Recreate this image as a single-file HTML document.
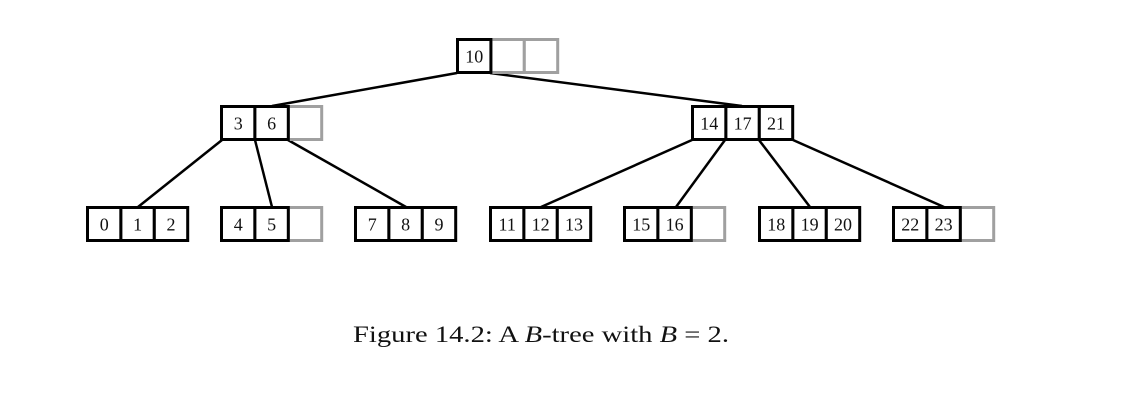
<!DOCTYPE html>
<html><head><meta charset="utf-8"><style>
html,body{margin:0;padding:0;background:#fff;}
svg{display:block;}
text{font-family:"Liberation Serif",serif;}
</style></head><body>
<svg width="1123" height="415" viewBox="0 0 1123 415" xmlns="http://www.w3.org/2000/svg">
<g stroke="#000" stroke-width="2.5" fill="none">
<line x1="457" y1="73" x2="272" y2="106"/>
<line x1="490" y1="73" x2="742" y2="106"/>
<line x1="222" y1="140" x2="138" y2="207"/>
<line x1="255" y1="140" x2="272" y2="207"/>
<line x1="288" y1="140" x2="406" y2="207"/>
<line x1="692" y1="140" x2="541" y2="207"/>
<line x1="725" y1="140" x2="676" y2="207"/>
<line x1="759" y1="140" x2="810" y2="207"/>
<line x1="793" y1="140" x2="944" y2="207"/>
</g>
<g fill="#fff" stroke="#a0a0a0" stroke-width="3">
<rect x="490.9" y="39.5" width="33.4" height="33"/>
<rect x="524.3" y="39.5" width="33.4" height="33"/>
<rect x="288.3" y="106.5" width="33.4" height="33"/>
<rect x="288.3" y="207.5" width="33.4" height="33"/>
<rect x="691.3" y="207.5" width="33.4" height="33"/>
<rect x="960.3" y="207.5" width="33.4" height="33"/>
</g>
<g fill="#fff" stroke="#000" stroke-width="3">
<rect x="457.5" y="39.5" width="33.4" height="33"/>
<rect x="221.5" y="106.5" width="33.4" height="33"/>
<rect x="254.9" y="106.5" width="33.4" height="33"/>
<rect x="692.5" y="106.5" width="33.4" height="33"/>
<rect x="725.9" y="106.5" width="33.4" height="33"/>
<rect x="759.3" y="106.5" width="33.4" height="33"/>
<rect x="87.5" y="207.5" width="33.4" height="33"/>
<rect x="120.9" y="207.5" width="33.4" height="33"/>
<rect x="154.3" y="207.5" width="33.4" height="33"/>
<rect x="221.5" y="207.5" width="33.4" height="33"/>
<rect x="254.9" y="207.5" width="33.4" height="33"/>
<rect x="355.5" y="207.5" width="33.4" height="33"/>
<rect x="388.9" y="207.5" width="33.4" height="33"/>
<rect x="422.3" y="207.5" width="33.4" height="33"/>
<rect x="490.5" y="207.5" width="33.4" height="33"/>
<rect x="523.9" y="207.5" width="33.4" height="33"/>
<rect x="557.3" y="207.5" width="33.4" height="33"/>
<rect x="624.5" y="207.5" width="33.4" height="33"/>
<rect x="657.9" y="207.5" width="33.4" height="33"/>
<rect x="759.5" y="207.5" width="33.4" height="33"/>
<rect x="792.9" y="207.5" width="33.4" height="33"/>
<rect x="826.3" y="207.5" width="33.4" height="33"/>
<rect x="893.5" y="207.5" width="33.4" height="33"/>
<rect x="926.9" y="207.5" width="33.4" height="33"/>
</g>
<g font-size="18" text-anchor="middle" fill="#111">
<text x="474.2" y="62.5">10</text>
<text x="238.2" y="129.5">3</text>
<text x="271.6" y="129.5">6</text>
<text x="709.2" y="129.5">14</text>
<text x="742.6" y="129.5">17</text>
<text x="776" y="129.5">21</text>
<text x="104.2" y="230.5">0</text>
<text x="137.6" y="230.5">1</text>
<text x="171" y="230.5">2</text>
<text x="238.2" y="230.5">4</text>
<text x="271.6" y="230.5">5</text>
<text x="372.2" y="230.5">7</text>
<text x="405.6" y="230.5">8</text>
<text x="439" y="230.5">9</text>
<text x="507.2" y="230.5">11</text>
<text x="540.6" y="230.5">12</text>
<text x="574" y="230.5">13</text>
<text x="641.2" y="230.5">15</text>
<text x="674.6" y="230.5">16</text>
<text x="776.2" y="230.5">18</text>
<text x="809.6" y="230.5">19</text>
<text x="843" y="230.5">20</text>
<text x="910.2" y="230.5">22</text>
<text x="943.6" y="230.5">23</text>
</g>
<text x="353" y="342" font-size="23" textLength="376" lengthAdjust="spacingAndGlyphs" fill="#111">Figure 14.2: A <tspan font-style="italic">B</tspan>-tree with <tspan font-style="italic">B</tspan> = 2.</text>
</svg>
</body></html>
